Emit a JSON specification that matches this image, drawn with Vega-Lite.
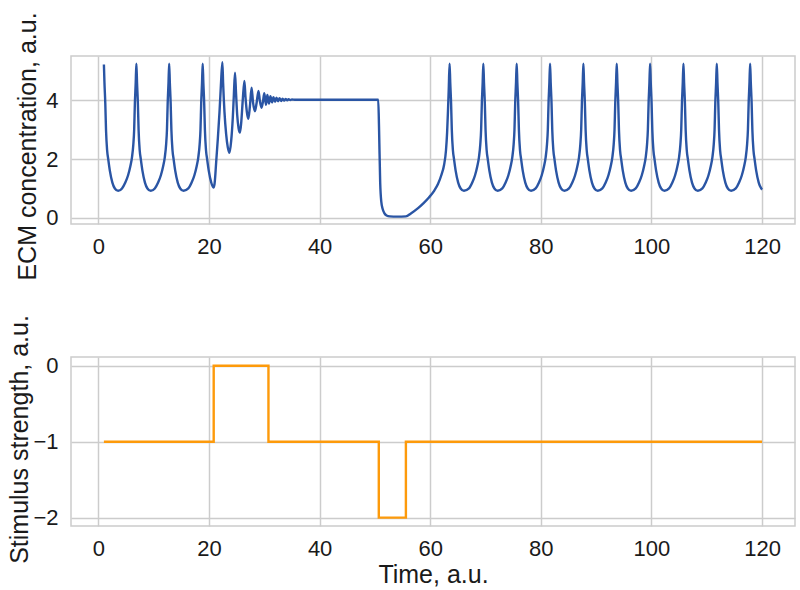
{
  "$schema": "https://vega.github.io/schema/vega-lite/v6.json",
  "padding": {"left": 6, "top": 11, "right": 3, "bottom": 0},
  "bounds": "flush",
  "spacing": 133,
  "background": "white",
  "config": {
    "font": "Liberation Sans",
    "view": {"stroke": "#cccccc", "strokeWidth": 1.5},
    "axis": {
      "grid": true, "gridColor": "#cccccc", "gridWidth": 1.5,
      "domain": false, "ticks": false, "tickSize": 0,
      "labelFont": "Liberation Sans", "labelFontSize": 22, "labelColor": "#1a1a1a",
      "titleFont": "Liberation Sans", "titleFontSize": 25, "titleFontWeight": "normal", "titleColor": "#1a1a1a",
      "labelPadding": 13
    },
    "axisX": {"labelPadding": 12, "titlePadding": 3}
  },
  "vconcat": [
    {
      "width": 724,
      "height": 168,
      "data": {"values": [
        {"t":1.0,"c":5.22},{"t":1.1,"c":4.6},{"t":1.25,"c":3.9},{"t":1.38,"c":3.0},{"t":1.58,"c":2.3},{"t":1.78,"c":2.0},{"t":2.08,"c":1.6},{"t":2.53,"c":1.2},{"t":2.98,"c":1.0},{"t":3.58,"c":0.92},
        {"t":4.27,"c":1.0},{"t":4.87,"c":1.2},{"t":5.37,"c":1.45},{"t":5.77,"c":1.75},{"t":6.07,"c":2.05},{"t":6.32,"c":2.5},{"t":6.47,"c":3.0},{"t":6.6,"c":3.9},{"t":6.75,"c":4.6},{"t":6.87,"c":5.25},
        {"t":6.99,"c":4.6},{"t":7.14,"c":3.9},{"t":7.27,"c":3.0},{"t":7.47,"c":2.3},{"t":7.67,"c":2.0},{"t":7.97,"c":1.6},{"t":8.42,"c":1.2},{"t":8.87,"c":1.0},{"t":9.47,"c":0.92},
        {"t":10.2,"c":1.0},{"t":10.8,"c":1.2},{"t":11.3,"c":1.45},{"t":11.7,"c":1.75},{"t":12.0,"c":2.05},{"t":12.25,"c":2.5},{"t":12.4,"c":3.0},{"t":12.53,"c":3.9},{"t":12.68,"c":4.6},{"t":12.8,"c":5.25},
        {"t":12.92,"c":4.6},{"t":13.07,"c":3.9},{"t":13.2,"c":3.0},{"t":13.4,"c":2.3},{"t":13.6,"c":2.0},{"t":13.9,"c":1.6},{"t":14.35,"c":1.2},{"t":14.8,"c":1.0},{"t":15.4,"c":0.92},
        {"t":16.26,"c":1.0},{"t":16.86,"c":1.2},{"t":17.36,"c":1.45},{"t":17.76,"c":1.75},{"t":18.06,"c":2.05},{"t":18.31,"c":2.5},{"t":18.46,"c":3.0},{"t":18.59,"c":3.9},{"t":18.74,"c":4.6},{"t":18.86,"c":5.25},
        {"t":18.98,"c":4.6},{"t":19.13,"c":3.9},{"t":19.26,"c":3.0},{"t":19.46,"c":2.3},{"t":19.66,"c":2.0},{"t":19.96,"c":1.6},{"t":20.41,"c":1.2},{"t":20.8,"c":1.03},
        {"t":21.0,"c":1.15},{"t":21.3,"c":1.9},{"t":21.6,"c":2.7},{"t":21.9,"c":3.6},{"t":22.15,"c":4.5},{"t":22.42,"c":5.3},
        {"t":22.55,"c":4.6},{"t":22.8,"c":3.6},{"t":23.1,"c":2.85},{"t":23.4,"c":2.4},{"t":23.7,"c":2.21},{"t":24.0,"c":2.6},{"t":24.3,"c":3.4},{"t":24.5,"c":4.2},{"t":24.7,"c":4.94},
        {"t":24.9,"c":4.2},{"t":25.1,"c":3.5},{"t":25.35,"c":3.05},{"t":25.6,"c":2.9},{"t":25.85,"c":3.3},{"t":26.1,"c":4.0},{"t":26.4,"c":4.66},
        {"t":26.6,"c":4.1},{"t":26.85,"c":3.6},{"t":27.1,"c":3.37},{"t":27.4,"c":3.8},{"t":27.7,"c":4.43},
        {"t":27.95,"c":3.95},{"t":28.3,"c":3.63},{"t":28.6,"c":3.9},{"t":28.95,"c":4.32},
        {"t":29.2,"c":3.98},{"t":29.5,"c":3.75},{"t":29.75,"c":3.95},{"t":30.0,"c":4.24},
        {"t":30.3,"c":3.85},{"t":30.55,"c":4.18},{"t":30.85,"c":3.89},{"t":31.1,"c":4.14},{"t":31.4,"c":3.93},{"t":31.65,"c":4.11},{"t":31.95,"c":3.95},{"t":32.2,"c":4.09},
        {"t":32.5,"c":3.97},{"t":32.75,"c":4.07},{"t":33.05,"c":3.98},{"t":33.3,"c":4.06},{"t":33.6,"c":3.99},{"t":33.85,"c":4.05},{"t":34.15,"c":4.0},{"t":34.4,"c":4.04},
        {"t":34.7,"c":4.01},{"t":35.0,"c":4.03},{"t":35.5,"c":4.02},{"t":50.6,"c":4.02},
        {"t":50.75,"c":3.0},{"t":50.95,"c":1.2},{"t":51.15,"c":0.55},{"t":51.4,"c":0.3},{"t":51.7,"c":0.16},{"t":52.1,"c":0.08},{"t":52.7,"c":0.05},{"t":54.0,"c":0.04},{"t":55.6,"c":0.05},
        {"t":56.5,"c":0.15},{"t":57.8,"c":0.33},{"t":58.8,"c":0.5},{"t":59.8,"c":0.7},{"t":60.7,"c":0.92},{"t":61.4,"c":1.15},{"t":62.0,"c":1.45},{"t":62.5,"c":1.8},{"t":62.85,"c":2.3},{"t":63.05,"c":2.9},{"t":63.2,"c":3.6},{"t":63.35,"c":4.4},{"t":63.5,"c":5.25},
        {"t":63.62,"c":4.6},{"t":63.77,"c":3.9},{"t":63.9,"c":3.0},{"t":64.1,"c":2.3},{"t":64.3,"c":2.0},{"t":64.6,"c":1.6},{"t":65.05,"c":1.2},{"t":65.5,"c":1.0},{"t":66.1,"c":0.92},
        {"t":67.0,"c":1.0},{"t":67.6,"c":1.2},{"t":68.1,"c":1.45},{"t":68.5,"c":1.75},{"t":68.8,"c":2.05},{"t":69.05,"c":2.5},{"t":69.2,"c":3.0},{"t":69.33,"c":3.9},{"t":69.48,"c":4.6},{"t":69.6,"c":5.25},
        {"t":69.72,"c":4.6},{"t":69.87,"c":3.9},{"t":70.0,"c":3.0},{"t":70.2,"c":2.3},{"t":70.4,"c":2.0},{"t":70.7,"c":1.6},{"t":71.15,"c":1.2},{"t":71.6,"c":1.0},{"t":72.2,"c":0.92},
        {"t":73.03,"c":1.0},{"t":73.63,"c":1.2},{"t":74.13,"c":1.45},{"t":74.53,"c":1.75},{"t":74.83,"c":2.05},{"t":75.08,"c":2.5},{"t":75.23,"c":3.0},{"t":75.36,"c":3.9},{"t":75.51,"c":4.6},{"t":75.63,"c":5.25},
        {"t":75.75,"c":4.6},{"t":75.9,"c":3.9},{"t":76.03,"c":3.0},{"t":76.23,"c":2.3},{"t":76.43,"c":2.0},{"t":76.73,"c":1.6},{"t":77.18,"c":1.2},{"t":77.63,"c":1.0},{"t":78.23,"c":0.92},
        {"t":79.06,"c":1.0},{"t":79.66,"c":1.2},{"t":80.16,"c":1.45},{"t":80.56,"c":1.75},{"t":80.86,"c":2.05},{"t":81.11,"c":2.5},{"t":81.26,"c":3.0},{"t":81.39,"c":3.9},{"t":81.54,"c":4.6},{"t":81.66,"c":5.25},
        {"t":81.78,"c":4.6},{"t":81.93,"c":3.9},{"t":82.06,"c":3.0},{"t":82.26,"c":2.3},{"t":82.46,"c":2.0},{"t":82.76,"c":1.6},{"t":83.21,"c":1.2},{"t":83.66,"c":1.0},{"t":84.26,"c":0.92},
        {"t":85.09,"c":1.0},{"t":85.69,"c":1.2},{"t":86.19,"c":1.45},{"t":86.59,"c":1.75},{"t":86.89,"c":2.05},{"t":87.14,"c":2.5},{"t":87.29,"c":3.0},{"t":87.42,"c":3.9},{"t":87.57,"c":4.6},{"t":87.69,"c":5.25},
        {"t":87.81,"c":4.6},{"t":87.96,"c":3.9},{"t":88.09,"c":3.0},{"t":88.29,"c":2.3},{"t":88.49,"c":2.0},{"t":88.79,"c":1.6},{"t":89.24,"c":1.2},{"t":89.69,"c":1.0},{"t":90.29,"c":0.92},
        {"t":91.12,"c":1.0},{"t":91.72,"c":1.2},{"t":92.22,"c":1.45},{"t":92.62,"c":1.75},{"t":92.92,"c":2.05},{"t":93.17,"c":2.5},{"t":93.32,"c":3.0},{"t":93.45,"c":3.9},{"t":93.6,"c":4.6},{"t":93.72,"c":5.25},
        {"t":93.84,"c":4.6},{"t":93.99,"c":3.9},{"t":94.12,"c":3.0},{"t":94.32,"c":2.3},{"t":94.52,"c":2.0},{"t":94.82,"c":1.6},{"t":95.27,"c":1.2},{"t":95.72,"c":1.0},{"t":96.32,"c":0.92},
        {"t":97.15,"c":1.0},{"t":97.75,"c":1.2},{"t":98.25,"c":1.45},{"t":98.65,"c":1.75},{"t":98.95,"c":2.05},{"t":99.2,"c":2.5},{"t":99.35,"c":3.0},{"t":99.48,"c":3.9},{"t":99.63,"c":4.6},{"t":99.75,"c":5.25},
        {"t":99.87,"c":4.6},{"t":100.02,"c":3.9},{"t":100.15,"c":3.0},{"t":100.35,"c":2.3},{"t":100.55,"c":2.0},{"t":100.85,"c":1.6},{"t":101.3,"c":1.2},{"t":101.75,"c":1.0},{"t":102.35,"c":0.92},
        {"t":103.18,"c":1.0},{"t":103.78,"c":1.2},{"t":104.28,"c":1.45},{"t":104.68,"c":1.75},{"t":104.98,"c":2.05},{"t":105.23,"c":2.5},{"t":105.38,"c":3.0},{"t":105.51,"c":3.9},{"t":105.66,"c":4.6},{"t":105.78,"c":5.25},
        {"t":105.9,"c":4.6},{"t":106.05,"c":3.9},{"t":106.18,"c":3.0},{"t":106.38,"c":2.3},{"t":106.58,"c":2.0},{"t":106.88,"c":1.6},{"t":107.33,"c":1.2},{"t":107.78,"c":1.0},{"t":108.38,"c":0.92},
        {"t":109.21,"c":1.0},{"t":109.81,"c":1.2},{"t":110.31,"c":1.45},{"t":110.71,"c":1.75},{"t":111.01,"c":2.05},{"t":111.26,"c":2.5},{"t":111.41,"c":3.0},{"t":111.54,"c":3.9},{"t":111.69,"c":4.6},{"t":111.81,"c":5.25},
        {"t":111.93,"c":4.6},{"t":112.08,"c":3.9},{"t":112.21,"c":3.0},{"t":112.41,"c":2.3},{"t":112.61,"c":2.0},{"t":112.91,"c":1.6},{"t":113.36,"c":1.2},{"t":113.81,"c":1.0},{"t":114.41,"c":0.92},
        {"t":115.24,"c":1.0},{"t":115.84,"c":1.2},{"t":116.34,"c":1.45},{"t":116.74,"c":1.75},{"t":117.04,"c":2.05},{"t":117.29,"c":2.5},{"t":117.44,"c":3.0},{"t":117.57,"c":3.9},{"t":117.72,"c":4.6},{"t":117.84,"c":5.25},
        {"t":117.96,"c":4.6},{"t":118.11,"c":3.9},{"t":118.24,"c":3.0},{"t":118.44,"c":2.3},{"t":118.64,"c":2.0},{"t":118.94,"c":1.6},{"t":119.39,"c":1.2},{"t":119.84,"c":1.0},{"t":120.0,"c":0.96}
      ]},
      "mark": {"type": "line", "color": "#2a55a4", "strokeWidth": 2.4, "interpolate": "monotone"},
      "encoding": {
        "x": {"field": "t", "type": "quantitative", "scale": {"domain": [-4.95, 125.95], "nice": false, "zero": false}, "axis": {"values": [0, 20, 40, 60, 80, 100, 120], "title": null}},
        "y": {"field": "c", "type": "quantitative", "scale": {"domain": [-0.21, 5.51], "nice": false, "zero": false}, "axis": {"values": [0, 2, 4], "title": "ECM concentration, a.u.", "titleX": -31, "titleY": 90}}
      }
    },
    {
      "width": 724,
      "height": 169,
      "data": {"values": [
        {"t": 1, "s": -1},
        {"t": 20.85, "s": 0},
        {"t": 30.75, "s": -1},
        {"t": 50.7, "s": -2},
        {"t": 55.6, "s": -1},
        {"t": 120, "s": -1}
      ]},
      "mark": {"type": "line", "color": "#fd9a0b", "strokeWidth": 2.4, "interpolate": "step-after"},
      "encoding": {
        "x": {"field": "t", "type": "quantitative", "scale": {"domain": [-4.95, 125.95], "nice": false, "zero": false}, "axis": {"values": [0, 20, 40, 60, 80, 100, 120], "title": "Time, a.u."}},
        "y": {"field": "s", "type": "quantitative", "scale": {"domain": [-2.11, 0.115], "nice": false, "zero": false}, "axis": {"values": [-2, -1, 0], "title": "Stimulus strength, a.u.", "titleX": -39, "titleY": 82}}
      }
    }
  ]
}
